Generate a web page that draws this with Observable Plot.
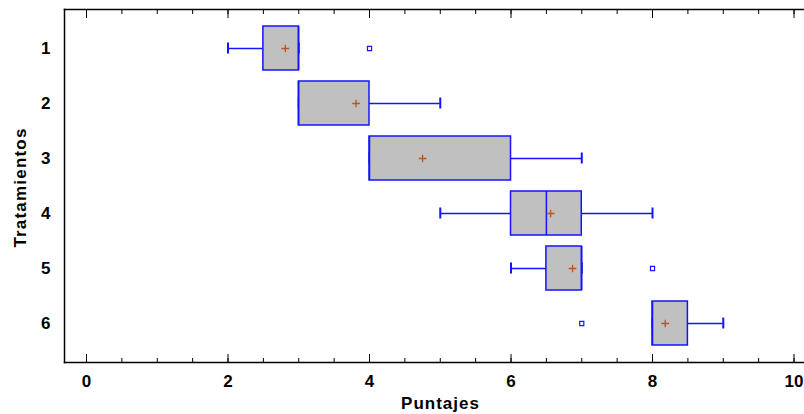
<!DOCTYPE html>
<html>
<head>
<meta charset="utf-8">
<script src="https://cdn.jsdelivr.net/npm/d3@7"></script>
<script src="https://cdn.jsdelivr.net/npm/@observablehq/plot@0.6"></script>
<style>
  html, body { margin: 0; padding: 0; background: #fff; }
  #chart svg { display: block; }
</style>
</head>
<body>
<div id="chart"></div>
<script>
// Data
const categories = ["1", "2", "3", "4", "5", "6"];
const whiskerLow = [2, 3, 4, 5, 6, 8];
const q1 = [2.5, 3, 4, 6, 6.5, 8];
const median = [3, 3, 4, 6.5, 7, 8];
const q3 = [3, 4, 6, 7, 7, 8.5];
const whiskerHigh = [3, 5, 7, 8, 7, 9];
const means = [2.81, 3.81, 4.75, 6.56, 6.87, 8.18];
const outlierCats = ["1", "5", "6"];
const outlierValues = [4, 8, 7];
const majorTicks = [0, 2, 4, 6, 8, 10];
const minorTicks = [0, 0.5, 1, 1.5, 2, 2.5, 3, 3.5, 4, 4.5, 5, 5.5, 6, 6.5, 7, 7.5, 8, 8.5, 9, 9.5, 10];
const xLabel = "Puntajes";
const yLabel = "Tratamientos";

const boxes = categories.map((c, i) => ({
  cat: c, lo: whiskerLow[i], q1: q1[i], med: median[i], q3: q3[i], hi: whiskerHigh[i], mean: means[i]
}));
const outliers = outlierCats.map((c, i) => ({cat: c, v: outlierValues[i]}));

const blue = "#1414ff";
const font = "'Liberation Sans', Arial, sans-serif";

const chart = Plot.plot({
  width: 804,
  height: 414,
  marginLeft: 64,
  marginRight: 0,
  marginTop: 9,
  marginBottom: 52,
  style: {fontFamily: font, fontWeight: "bold", fontSize: "17px", color: "#000", background: "#fff"},
  x: {domain: [-0.311, 10.148]},
  y: {type: "band", domain: categories, paddingInner: 0.2, paddingOuter: 0.29},
  marks: [
    // frame lines & ticks
    Plot.frame({anchor: "left", stroke: "#000", strokeWidth: 1.5}),
    Plot.frame({anchor: "top", stroke: "#000", strokeWidth: 1.5}),
    Plot.frame({anchor: "bottom", stroke: "#000", strokeWidth: 1.5}),
    Plot.axisY({tickSize: 0, tickPadding: 14, label: null, fontSize: 17, fontWeight: "bold"}),
    Plot.axisX({anchor: "top", ticks: minorTicks, tickSize: -4, text: null, label: null, stroke: "#000"}),
    Plot.axisX({anchor: "top", ticks: majorTicks, tickSize: -8, text: null, label: null, stroke: "#000"}),
    Plot.axisX({anchor: "bottom", ticks: minorTicks, tickSize: -4, text: null, label: null, stroke: "#000"}),
    Plot.axisX({anchor: "bottom", ticks: majorTicks, tickSize: -8, tickPadding: 20, label: null, fontSize: 17, fontWeight: "bold", stroke: "#000"}),
    // whiskers
    Plot.ruleY(boxes, {y: "cat", x1: "lo", x2: "q1", stroke: blue, strokeWidth: 1.5}),
    Plot.ruleY(boxes, {y: "cat", x1: "q3", x2: "hi", stroke: blue, strokeWidth: 1.5}),
    Plot.tickX(boxes, {x: "lo", y: "cat", insetTop: 16.5, insetBottom: 16.5, stroke: blue, strokeWidth: 2}),
    Plot.tickX(boxes, {x: "hi", y: "cat", insetTop: 16.5, insetBottom: 16.5, stroke: blue, strokeWidth: 2}),
    // boxes
    Plot.barX(boxes, {y: "cat", x1: "q1", x2: "q3", fill: "#c0c0c0", stroke: blue, strokeWidth: 1.5}),
    Plot.tickX(boxes, {x: "med", y: "cat", stroke: blue, strokeWidth: 1.5}),
    // means
    Plot.dot(boxes, {x: "mean", y: "cat", symbol: "plus", r: 2.6, stroke: "#b4581e", strokeWidth: 1.3}),
    // outliers
    Plot.dot(outliers, {x: "v", y: "cat", symbol: "square", r: 2.3, stroke: blue, fill: "#fff", strokeWidth: 1.2}),
    // axis titles
    Plot.text([xLabel], {text: d => d, frameAnchor: "bottom", textAnchor: "middle", dx: 6, dy: 41.5, lineAnchor: "middle", fontSize: 17, fontWeight: "bold", fill: "#000"}),
    Plot.text([yLabel], {text: d => d, frameAnchor: "left", textAnchor: "middle", rotate: -90, dx: -44, dy: 1.5, lineAnchor: "middle", fontSize: 17, fontWeight: "bold", fill: "#000"})
  ]
});

chart.querySelectorAll("text").forEach(t => {
  if (t.textContent === xLabel) t.setAttribute("letter-spacing", "1");
  if (t.textContent === yLabel) t.setAttribute("letter-spacing", "1.2");
});
document.getElementById("chart").appendChild(chart);
</script>
</body>
</html>
